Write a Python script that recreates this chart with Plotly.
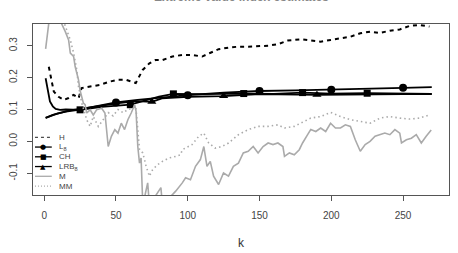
import plotly.graph_objects as go

# ---------------- data ----------------
H_k = [3.2, 5.5, 6.7, 10, 13.6, 17, 20.5, 24, 26, 32, 38.8, 45.7, 51.4, 57, 63.8, 68.6, 73.3, 77.6,
       82.4, 89.3, 96.2, 103, 110, 115.5, 121.5, 128.4, 135.3, 142.1, 149, 156, 163, 169.7, 178.9,
       185.8, 192.6, 199.5, 206.4, 213.3, 220.2, 227, 234, 240.8, 247.7, 254.6, 261.5, 268.4]
H_v = [0.234, 0.177, 0.156, 0.14, 0.13, 0.136, 0.146, 0.136, 0.167, 0.172, 0.177, 0.1875, 0.193,
       0.193, 0.183, 0.224, 0.245, 0.255, 0.255, 0.266, 0.271, 0.271, 0.266, 0.277, 0.289, 0.294,
       0.297, 0.297, 0.299, 0.30, 0.305, 0.316, 0.32, 0.316, 0.3125, 0.318, 0.323, 0.328, 0.339,
       0.344, 0.34, 0.347, 0.351, 0.362, 0.365, 0.36]

L8_k = [1, 3, 6, 10, 15, 25, 35, 50, 65, 80, 100, 125, 150, 175, 200, 225, 250, 270]
L8_v = [0.074, 0.078, 0.083, 0.088, 0.093, 0.100, 0.108, 0.122, 0.130, 0.137, 0.145, 0.153,
        0.158, 0.160, 0.162, 0.165, 0.168, 0.170]
L8_marks = [50, 100, 150, 200, 250]

CH_k = [1, 2, 3, 4, 6, 8, 11, 15, 25, 40, 60, 70, 80, 90, 110, 139, 160, 180, 200, 225, 250, 270]
CH_v = [0.198, 0.175, 0.150, 0.125, 0.110, 0.102, 0.099, 0.100, 0.099, 0.108, 0.115, 0.128,
        0.140, 0.149, 0.148, 0.150, 0.149, 0.153, 0.150, 0.151, 0.149, 0.149]
CH_marks = [25, 60, 90, 139, 180, 225]

LRB_k = [1, 9, 18, 27, 41, 52, 64, 75, 82, 100, 125, 150, 190, 220, 250, 270]
LRB_v = [0.074, 0.087, 0.097, 0.103, 0.113, 0.120, 0.126, 0.124, 0.135, 0.140, 0.142, 0.148,
         0.146, 0.148, 0.148, 0.148]
LRB_marks = [75, 125, 190]

M_k = [1, 3, 4, 6, 8, 10, 12, 14.7, 17, 18.2, 20.5, 21.6, 23.9, 25, 26.2, 27.3, 28.5, 29.6, 32,
       34.2, 36.5, 40, 42.3, 44.6, 46.8, 49.2, 51.4, 53.7, 56, 58.3, 60.6, 63, 64, 65.2, 66.4,
       67.5, 68.7, 72.1, 73.3, 81.3, 82.4, 91.6, 96.2, 98.5, 101.9, 105.4, 108.8, 111.2, 113.4,
       115.7, 118, 121.5, 124.9, 128.4, 131.8, 135.3, 138.7, 142.1, 145.6, 149, 152.5, 156,
       159.4, 162.8, 166.3, 167.4, 170.8, 174.2, 177.7, 180, 183.5, 185.7, 189.2, 192.6, 196.1,
       199.5, 202.9, 206.4, 209.8, 213.3, 216.7, 220.2, 223.6, 227, 230.5, 234, 237.3, 240.8,
       244.3, 247.7, 248.9, 252.3, 255.8, 259.2, 262.7, 266.1, 269.6]
M_v = [0.29, 0.36, 0.40, 0.41, 0.38, 0.40, 0.37, 0.344, 0.318, 0.277, 0.266, 0.234, 0.193, 0.16,
       0.14, 0.12, 0.115, 0.089, 0.099, 0.083, 0.099, 0.104, 0.089, -0.016, 0.016, 0.037, 0.026,
       0.057, 0.037, 0.068, 0.089, 0.115, 0.094, -0.016, -0.068, -0.052, -0.20, -0.13, -0.20,
       -0.145, -0.20, -0.156, -0.13, -0.114, -0.12, -0.078, -0.057, -0.016, -0.078, -0.0625,
       -0.109, -0.135, -0.099, -0.109, -0.078, -0.068, -0.036, -0.031, -0.016, -0.036, -0.016,
       -0.005, -0.01, -0.005, -0.016, -0.047, -0.036, -0.042, -0.026, -0.005, 0.021, 0.037, 0.031,
       0.042, 0.031, 0.057, 0.042, 0.042, 0.052, 0.047, 0.005, -0.031, -0.01, 0.0, 0.016, 0.021,
       0.026, 0.021, 0.037, 0.026, -0.005, 0.005, 0.01, 0.021, -0.005, 0.016, 0.036]

MM_k = [10, 14.7, 18.2, 20.5, 22.7, 23.9, 26.2, 29.6, 32, 34.2, 37.7, 41.1, 44.6, 48, 51.4, 55,
        58.3, 61.8, 63.8, 66.4, 68.7, 71, 73.3, 75.6, 79, 82.4, 87, 91.6, 95, 96.2, 103, 107.7,
        111.2, 114.6, 119.1, 123.8, 128.4, 135.3, 142.1, 149, 156, 162.8, 167.4, 174.2, 181.1,
        185.7, 192.6, 199.5, 206.4, 213.3, 220.2, 227, 234, 240.8, 247.7, 254.6, 261.5, 268.4]
MM_v = [0.42, 0.36, 0.318, 0.277, 0.224, 0.172, 0.12, 0.068, 0.047, 0.078, 0.047, 0.068, 0.09,
        0.08, 0.10, 0.09, 0.10, 0.105, 0.11, -0.026, -0.036, -0.078, -0.109, -0.088, -0.073,
        -0.0625, -0.052, -0.047, -0.042, -0.026, -0.01, 0.016, 0.026, -0.005, -0.021, -0.016,
        -0.005, 0.021, 0.037, 0.047, 0.047, 0.052, 0.042, 0.047, 0.0625, 0.073, 0.078, 0.091,
        0.078, 0.068, 0.0625, 0.057, 0.073, 0.078, 0.073, 0.07, 0.073, 0.083]

x_ticks = [0, 50, 100, 150, 200, 250]
y_ticks = [-0.1, 0.0, 0.1, 0.2, 0.3]
y_tick_labels = ["-0.1", "0.0", "0.1", "0.2", "0.3"]
legend_labels = ["H", "L<sub>8</sub>", "CH", "LRB<sub>8</sub>", "M", "MM"]

# ---------------- figure ----------------
W, HT = 458, 253
ML, MR, MT, MB = 29, 8, 24, 58
PW, PH = W - ML - MR, HT - MT - MB


def px(x):
    return (x - ML) / PW


def py(y):
    return (HT - MB - y) / PH


GRAY = "#aaaaaa"
fig = go.Figure()

fig.add_trace(go.Scatter(x=H_k, y=H_v, mode="lines",
                         line=dict(color="black", width=2, dash="4px,4px")))
fig.add_trace(go.Scatter(x=L8_k, y=L8_v, mode="lines", line=dict(color="black", width=1.8)))
fig.add_trace(go.Scatter(x=CH_k, y=CH_v, mode="lines", line=dict(color="black", width=1.8)))
fig.add_trace(go.Scatter(x=LRB_k, y=LRB_v, mode="lines", line=dict(color="black", width=1.8)))

fig.add_trace(go.Scatter(x=L8_marks, y=[L8_v[L8_k.index(k)] for k in L8_marks], mode="markers",
                         marker=dict(symbol="circle", size=8, color="black")))
fig.add_trace(go.Scatter(x=CH_marks, y=[CH_v[CH_k.index(k)] for k in CH_marks], mode="markers",
                         marker=dict(symbol="square", size=7, color="black")))
fig.add_trace(go.Scatter(x=LRB_marks, y=[LRB_v[LRB_k.index(k)] for k in LRB_marks], mode="markers",
                         marker=dict(symbol="triangle-up", size=8, color="black")))

fig.add_trace(go.Scatter(x=M_k, y=M_v, mode="lines", line=dict(color=GRAY, width=1.6)))
fig.add_trace(go.Scatter(x=MM_k, y=MM_v, mode="lines",
                         line=dict(color=GRAY, width=1.6, dash="1.5px,3px")))

# ---------------- manual legend ----------------
shapes = []
annotations = []
leg_y0 = 137.3
leg_step = 9.75
styles = [
    dict(color="#222222", width=1, dash="3px,3px", mark=None),
    dict(color="black", width=1.3, dash="solid", mark="●"),
    dict(color="black", width=1.3, dash="solid", mark="■"),
    dict(color="black", width=1.3, dash="solid", mark="▲"),
    dict(color=GRAY, width=1.3, dash="solid", mark=None),
    dict(color=GRAY, width=1.3, dash="1px,2px", mark=None),
]
for i, (lab, st) in enumerate(zip(legend_labels, styles)):
    yy = py(leg_y0 + i * leg_step)
    shapes.append(dict(type="line", xref="paper", yref="paper", x0=px(31), x1=px(48),
                       y0=yy, y1=yy, line=dict(color=st["color"], width=st["width"], dash=st["dash"])))
    if st["mark"]:
        annotations.append(dict(xref="paper", yref="paper", x=px(39.5), y=yy, text=st["mark"],
                                showarrow=False, xanchor="center", yanchor="middle",
                                font=dict(size=7, color="black", family="DejaVu Sans")))
    annotations.append(dict(xref="paper", yref="paper", x=px(53), y=yy, text=lab, showarrow=False,
                            xanchor="left", yanchor="middle",
                            font=dict(size=8, color="#444444", family="Liberation Sans")))

# axis title k
annotations.append(dict(xref="paper", yref="paper", x=px(239.5), y=py(243), text="k",
                        showarrow=False, xanchor="center", yanchor="middle",
                        font=dict(size=12, color="#333333", family="Liberation Sans")))
# main title, mostly above the visible page as in the reference
annotations.append(dict(xref="paper", yref="paper", x=px(239.5), y=py(6.5), text="<b>Extreme value index estimates</b>",
                        showarrow=False, xanchor="center", yanchor="bottom",
                        font=dict(size=12, color="#888888", family="Liberation Sans")))

fig.update_layout(
    width=W, height=HT,
    margin=dict(l=ML, r=MR, t=MT, b=MB),
    paper_bgcolor="white", plot_bgcolor="white",
    showlegend=False,
    shapes=shapes, annotations=annotations,
    font=dict(family="Liberation Sans", size=10, color="#444444"),
)
fig.update_xaxes(range=[-7.8, 282], tickvals=x_ticks, ticks="outside", ticklen=5, tickwidth=1,
                 tickcolor="#555555", showline=True, mirror=True, linecolor="#555555", linewidth=1,
                 showgrid=False, zeroline=False, ticklabelstandoff=6,
                 tickfont=dict(size=10, color="#444444"))
fig.update_yaxes(range=[-0.168, 0.368], tickvals=y_ticks, ticktext=y_tick_labels, ticks="outside",
                 ticklen=5, tickwidth=1, tickcolor="#555555", showline=True, mirror=True,
                 linecolor="#555555", linewidth=1, showgrid=False, zeroline=False, tickangle=-90,
                 ticklabelstandoff=6, tickfont=dict(size=10, color="#444444"))

fig.write_html("out.html")
